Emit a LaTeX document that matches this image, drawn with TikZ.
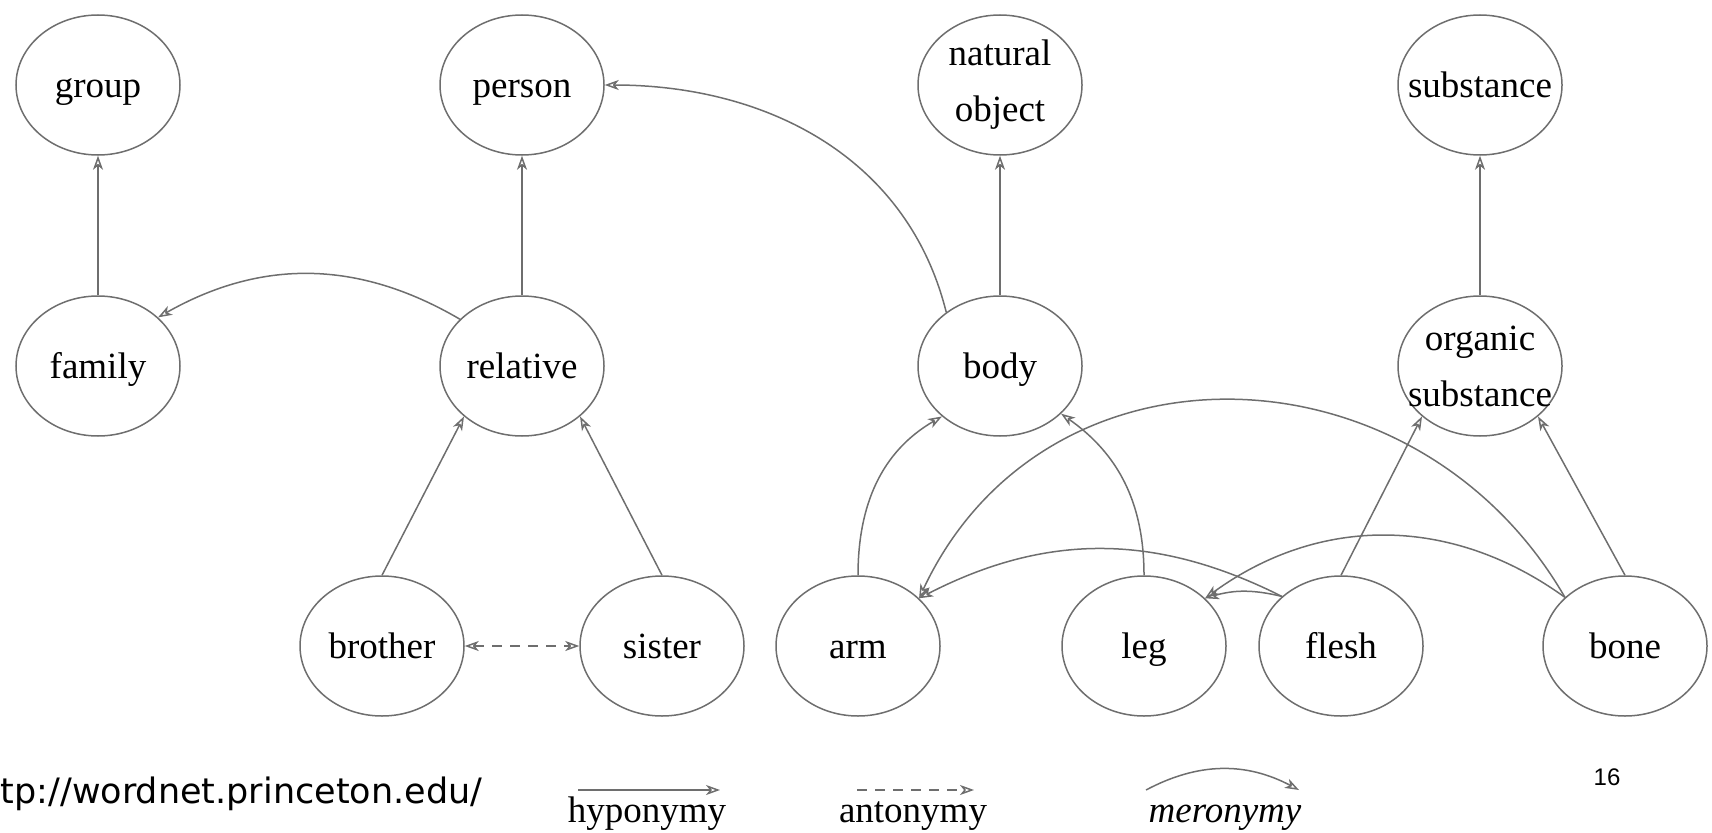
\documentclass[tikz,border=0pt]{standalone}
\usepackage{fontspec}
\setmainfont{Liberation Serif}
\newfontfamily\urlfont{DejaVu Sans}
\newfontfamily\pagefont{Liberation Sans}
\usetikzlibrary{shapes.geometric,arrows.meta}

\definecolor{linegray}{RGB}{110,110,110}
\tikzset{every picture/.style={line width=0.75pt}}
\tikzset{
  >={Stealth[open,length=7pt,width=5pt,inset=2pt]},
  concept/.style={ellipse,draw=linegray,minimum width=82pt,minimum height=70pt,inner sep=0pt},
  conceptlabel/.style={align=center,inner sep=0pt,font=\fontsize{18.5}{28}\selectfont},
  oneline/.style={conceptlabel,text height=14.6pt,text depth=2pt},
  hypo/.style={draw=linegray,->},
  anto/.style={draw=linegray,<->,dash pattern={on 5pt off 4pt}},
  mero/.style={draw=linegray,->},
  legendtext/.style={anchor=base,inner sep=0pt,font=\fontsize{18.5}{22}\selectfont}
}

\begin{document}
\begin{tikzpicture}[x=0.5pt,y=0.5pt]
	\useasboundingbox (0,0) rectangle (1712,832);

	%Shape: Ellipse [top row]
	\node[concept,label={[oneline]center:group}] (group) at (98,747) {};
	\node[concept,label={[oneline]center:person}] (person) at (522,747) {};
	\node[concept,label={[conceptlabel]center:{natural\\object}}] (natobj) at (1000,747) {};
	\node[concept,label={[oneline]center:substance}] (substance) at (1480,747) {};
	%Shape: Ellipse [middle row]
	\node[concept,label={[oneline]center:family}] (family) at (98,466) {};
	\node[concept,label={[oneline]center:relative}] (relative) at (522,466) {};
	\node[concept,label={[oneline]center:body}] (body) at (1000,466) {};
	\node[concept,label={[conceptlabel]center:{organic\\substance}}] (orgsub) at (1480,466) {};
	%Shape: Ellipse [bottom row]
	\node[concept,label={[oneline]center:brother}] (brother) at (382,186) {};
	\node[concept,label={[oneline]center:sister}] (sister) at (662,186) {};
	\node[concept,label={[oneline]center:arm}] (arm) at (858,186) {};
	\node[concept,label={[oneline]center:leg}] (leg) at (1144,186) {};
	\node[concept,label={[oneline]center:flesh}] (flesh) at (1341,186) {};
	\node[concept,label={[oneline]center:bone}] (bone) at (1625,186) {};

	%Straight Lines [hyponymy]
	\draw[hypo] (family.north) -- (group.south);
	\draw[hypo] (relative.north) -- (person.south);
	\draw[hypo] (body.north) -- (natobj.south);
	\draw[hypo] (orgsub.north) -- (substance.south);
	\draw[hypo] (brother.north) -- (relative.221);
	\draw[hypo] (sister.north) -- (relative.319);
	\draw[hypo] (flesh.north) -- (orgsub.221);
	\draw[hypo] (bone.north) -- (orgsub.319);
	%Straight Lines [antonymy]
	\draw[anto] (brother.east) -- (sister.west);

	%Curve Lines [meronymy]
	\draw[mero] (relative.143) to[bend right=30] (family.39);
	\draw[mero] (body.135) to[out=104,in=0] (person.east);
	\draw[mero] (arm.north) to[out=90,in=210] (body.221);
	\draw[mero] (leg.north) to[out=90,in=-35] (body.322);
	\draw[mero] (bone.141) to[out=120,in=65,looseness=1.18] (arm.38);
	\draw[mero] (flesh.140) to[bend right=27] (arm.38);
	\draw[mero] (bone.141) to[bend right=36] (leg.38);
	\draw[mero] (flesh.140) to[bend right=15] (leg.38);

	%Legend
	\coordinate (hypA) at (578,42);
	\coordinate (hypB) at (720,42);
	\coordinate (antA) at (857,42);
	\coordinate (antB) at (974,42);
	\coordinate (merA) at (1146,42);
	\coordinate (merB) at (1299,42);
	\draw[hypo] (hypA) -- (hypB);
	\draw[anto,-{Stealth[open,length=7pt,width=5pt,inset=2pt]}] (antA) -- (antB);
	\draw[mero] (merA) to[bend left=28] (merB);
	% Text Node
	\node[legendtext] (hyplabel) at (647,10) {hyponymy};
	% Text Node
	\node[legendtext] (antlabel) at (913,10) {antonymy};
	% Text Node
	\node[legendtext,font=\fontsize{18.5}{22}\selectfont\itshape] (merlabel) at (1225,10) {meronymy};
	% Text Node
	\node[anchor=base west,inner sep=0pt,font=\urlfont\fontsize{17.5}{20}\selectfont] (source) at (0,29) {tp://wordnet.princeton.edu/};
	% Text Node
	\node[anchor=base,inner sep=0pt,font=\pagefont\fontsize{12}{14}\selectfont] (pagenum) at (1607,47) {16};

\end{tikzpicture}
\end{document}
